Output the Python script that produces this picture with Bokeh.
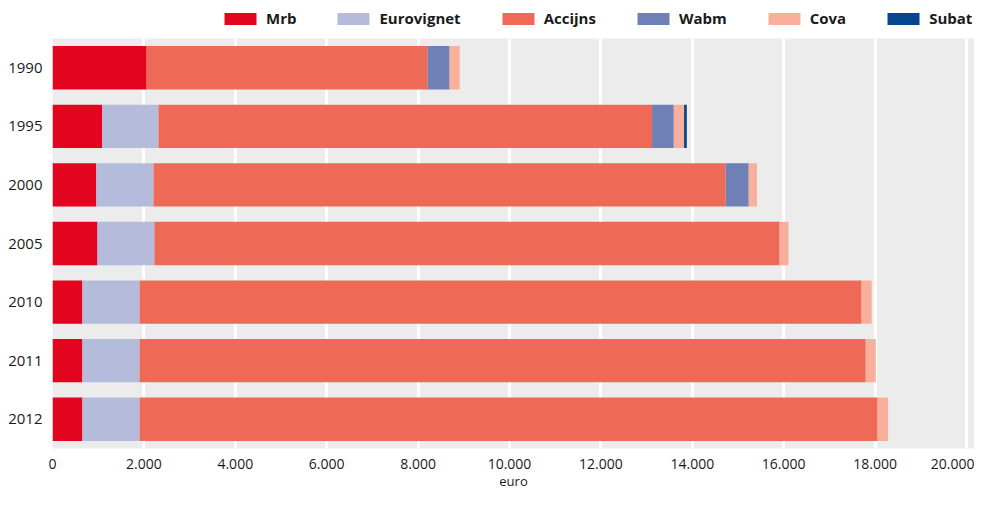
from bokeh.plotting import figure
from bokeh.layouts import column
from bokeh.models import FactorRange, Range1d, Legend, LegendItem, FixedTicker, ColumnDataSource
from bokeh.embed import file_html
from bokeh.resources import INLINE

years = ["1990", "1995", "2000", "2005", "2010", "2011", "2012"]
series = ["Mrb", "Eurovignet", "Accijns", "Wabm", "Cova", "Subat"]
mrb = [2060, 1090, 960, 985, 655, 655, 655]
eurovignet = [0, 1230, 1250, 1245, 1250, 1250, 1250]
accijns = [6150, 10800, 12520, 13680, 15800, 15890, 16150]
wabm = [480, 475, 505, 0, 0, 0, 0]
cova = [220, 225, 180, 195, 220, 220, 230]
subat = [0, 60, 0, 0, 0, 0, 0]
colors = ["#E3051F", "#B5BCDB", "#EE6A56", "#6E80B6", "#F8B09C", "#05468C"]
tick_values = [0, 2000, 4000, 6000, 8000, 10000, 12000, 14000, 16000, 18000, 20000]
tick_labels = ["0", "2.000", "4.000", "6.000", "8.000", "10.000", "12.000", "14.000", "16.000", "18.000", "20.000"]
x_label = "euro"

FONT = "Open Sans"
W = 974
LEG_H = 32

source = ColumnDataSource(data=dict(year=years, Mrb=mrb, Eurovignet=eurovignet, Accijns=accijns,
                                    Wabm=wabm, Cova=cova, Subat=subat))

# ---- main chart ----
p = figure(width=W, height=492 - LEG_H, output_backend="svg", toolbar_location=None,
           y_range=FactorRange(factors=years[::-1], range_padding=0),
           x_range=Range1d(0, 20175),
           min_border_left=52, min_border_right=0, min_border_top=6, min_border_bottom=30)

p.hbar_stack(series, y="year", height=0.74, color=colors, source=source, line_width=0)

p.background_fill_color = "#ECECEC"
p.border_fill_color = "white"
p.outline_line_color = None
p.ygrid.grid_line_color = None
p.xgrid.grid_line_color = "white"
p.xgrid.grid_line_width = 3
p.xgrid.ticker = FixedTicker(ticks=tick_values)
p.grid.level = "underlay"

p.xaxis.ticker = FixedTicker(ticks=tick_values)
p.xaxis.major_label_overrides = {v: l for v, l in zip(tick_values, tick_labels)}
p.xaxis.axis_label = x_label
p.xaxis.axis_label_text_font = FONT
p.xaxis.axis_label_text_font_size = "13px"
p.xaxis.axis_label_text_font_style = "normal"
p.xaxis.axis_label_text_color = "#1a1a1a"
p.xaxis.axis_label_standoff = 0
p.xaxis.major_label_standoff = 4

for ax in (p.xaxis, p.yaxis):
    ax.axis_line_color = None
    ax.major_tick_line_color = None
    ax.minor_tick_line_color = None
    ax.major_label_text_font = FONT
    ax.major_label_text_color = "#1a1a1a"
p.xaxis.major_label_text_font_size = "14px"
p.yaxis.major_label_text_font_size = "15px"
p.yaxis.major_label_standoff = 4

# ---- legend strip (same stacked bars, kept outside its visible x range) ----
lg = figure(width=W, height=LEG_H, output_backend="svg", toolbar_location=None,
            x_range=Range1d(-2, -1), y_range=FactorRange(factors=years),
            x_axis_location=None, y_axis_location=None, min_border=0)
lg.grid.visible = False
lg.outline_line_color = None
lg.background_fill_color = "white"
lg.border_fill_color = "white"
swatches = lg.hbar_stack(series, y="year", height=0.74, color=colors, source=source, line_width=0)

legend = Legend(items=[LegendItem(label=s, renderers=[r]) for s, r in zip(series, swatches)],
                orientation="horizontal", location=(168, 4),
                glyph_width=40, glyph_height=15, label_height=15, label_standoff=6,
                spacing=37, padding=0, margin=0, border_line_color=None,
                background_fill_alpha=0,
                label_text_font=FONT, label_text_font_size="15px", label_text_font_style="bold",
                label_text_color="#1a1a1a")
lg.add_layout(legend, "center")

layout = column(lg, p, spacing=0)
open("out.html", "w").write(file_html(layout, INLINE))
